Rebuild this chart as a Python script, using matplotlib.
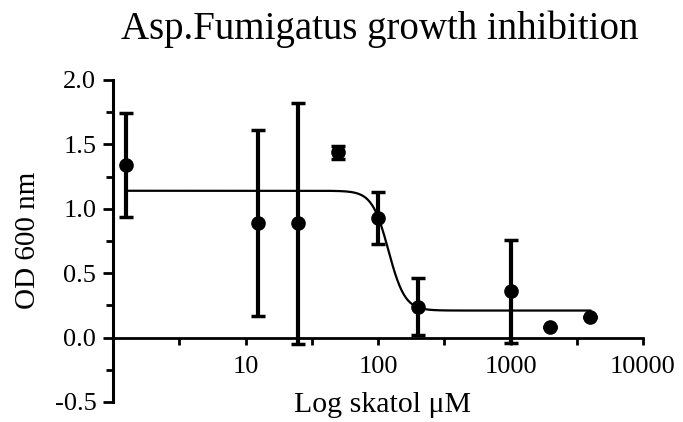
import numpy as np
import matplotlib
matplotlib.use("Agg")
import matplotlib.pyplot as plt
from matplotlib.ticker import FixedLocator, NullFormatter

# Data
conc = [1.25, 12.5, 25, 50, 100, 200, 1000, 2000, 4000]
od = [1.34, 0.89, 0.89, 1.44, 0.93, 0.24, 0.36, 0.08, 0.16]
err_low = [0.40, 0.72, 0.94, 0.05, 0.20, 0.22, 0.40, 0.0, 0.0]
err_high = [0.40, 0.72, 0.93, 0.05, 0.20, 0.22, 0.40, 0.0, 0.0]

# Fitted 4-parameter logistic curve parameters
fit_top = 1.14
fit_bottom = 0.21
fit_ic50 = 120.0
fit_hill = 7.0
fit_range = (1.25, 4000)

x_ticks = [10, 100, 1000, 10000]
x_tick_labels = ["10", "100", "1000", "10000"]
y_ticks = [-0.5, 0.0, 0.5, 1.0, 1.5, 2.0]
y_tick_labels = ["-0.5", "0.0", "0.5", "1.0", "1.5", "2.0"]

plt.rcParams['font.family'] = ['Liberation Serif', 'DejaVu Serif']

fig = plt.figure(figsize=(6.83, 4.22), dpi=100)
W, H = 683, 422
left, right, top, bottom = 113, 643, 80, 402
ax = fig.add_axes([left / W, 1 - bottom / H, (right - left) / W, (bottom - top) / H])

ax.set_xscale('log')
ax.set_xlim(1, 10000)
ax.set_ylim(-0.5, 2.0)

# curve
xc = np.logspace(np.log10(fit_range[0]), np.log10(fit_range[1]), 600)
yc = fit_bottom + (fit_top - fit_bottom) / (1 + (xc / fit_ic50) ** fit_hill)
ax.plot(xc, yc, color='black', lw=1.6, zorder=2)

ax.errorbar(conc, od, yerr=[err_low, err_high], fmt='o', color='black',
            ms=9.5, elinewidth=3, capsize=5, capthick=2.5, zorder=3, clip_on=False)

for s in ['top', 'right']:
    ax.spines[s].set_visible(False)
ax.spines['bottom'].set_position(('data', 0))
ax.spines['left'].set_linewidth(2.2)
ax.spines['bottom'].set_linewidth(2.0)

ax.xaxis.set_major_locator(FixedLocator(x_ticks))
ax.set_xticklabels(x_tick_labels)
ax.xaxis.set_minor_locator(FixedLocator([10 ** 0.5, 10 ** 1.5, 10 ** 2.5, 10 ** 3.5]))
ax.xaxis.set_minor_formatter(NullFormatter())
ax.tick_params(axis='x', which='both', direction='out', length=5, width=2, labelsize=19, pad=8)

ax.yaxis.set_major_locator(FixedLocator(y_ticks))
ax.set_yticklabels(y_tick_labels)
ax.yaxis.set_minor_locator(FixedLocator([-0.25, 0.25, 0.75, 1.25, 1.75]))
ax.tick_params(axis='y', which='major', direction='out', length=7, width=2, labelsize=19, pad=5)
ax.tick_params(axis='y', which='minor', direction='out', length=5, width=2)

fig.text(382 / W, 1 - 405 / H, "Log skatol μM", ha='center', va='center', fontsize=21.5)
fig.text(28 / W, 1 - 240 / H, "OD 600 nm", ha='center', va='center', rotation=90, fontsize=21)
fig.text(380 / W, 1 - 29 / H, "Asp.Fumigatus growth inhibition", ha='center', va='center', fontsize=28)

fig.savefig("out.png", dpi=100)
